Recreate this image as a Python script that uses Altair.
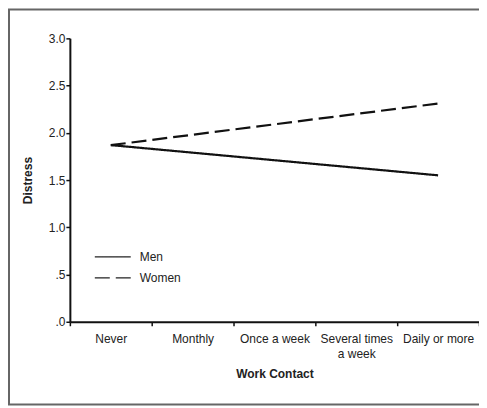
import altair as alt
import pandas as pd

categories = ["Never", "Monthly", "Once a week", "Several times a week", "Daily or more"]
men = [1.87, 1.79, 1.71, 1.63, 1.55]
women = [1.87, 1.98, 2.09, 2.20, 2.31]
groups = ["Men", "Women"]

rows = []
for g, vals in zip(groups, [men, women]):
    for c, v in zip(categories, vals):
        rows.append({"contact": c, "distress": v, "group": g})
df = pd.DataFrame(rows)

FONT = "Liberation Sans"
W, H = 410, 284

lines = alt.Chart(df).mark_line(color="#111111", strokeWidth=2.2).encode(
    x=alt.X("contact:N", sort=categories,
            scale=alt.Scale(type="band", paddingInner=0, paddingOuter=0),
            axis=alt.Axis(title="Work Contact", labelAngle=0, tickBand="extent",
                          labelExpr="datum.label == 'Several times a week' ? ['Several times', 'a week'] : datum.label",
                          labelLineHeight=15, labelPadding=8, tickSize=4, titlePadding=9)),
    y=alt.Y("distress:Q", scale=alt.Scale(domain=[0, 3]),
            axis=alt.Axis(title="Distress", values=[0, 0.5, 1, 1.5, 2, 2.5, 3],
                          labelExpr="datum.value < 1 ? replace(format(datum.value, '.1f'), '0.', '.') : format(datum.value, '.1f')",
                          tickSize=4, labelPadding=1, titlePadding=14, grid=False)),
    strokeDash=alt.StrokeDash("group:N",
                              scale=alt.Scale(domain=groups, range=[[1, 0], [15, 6]]),
                              legend=alt.Legend(title=None, orient="none", legendX=32, legendY=208,
                                                symbolType="M-1.8,0H1.8", symbolSize=400,
                                                symbolStrokeWidth=1.2, symbolStrokeColor="#222222",
                                                symbolFillColor="transparent",
                                                labelFontSize=12, labelFont=FONT, labelColor="#222222",
                                                rowPadding=4, labelOffset=16)),
)

frame = alt.Chart(alt.Data(values=[{}])).mark_rect(
    fill=None, stroke="#666666", strokeWidth=2
).encode(
    x=alt.value(-61), x2=alt.value(W + 20),
    y=alt.value(-29), y2=alt.value(H + 83),
)

chart = alt.layer(frame, lines).properties(
    width=W, height=H,
    autosize=alt.AutoSizeParams(type="none"),
    padding={"left": 62, "top": 30, "right": 0, "bottom": 84},
).configure_view(stroke=None).configure_axis(
    domainColor="#111111", domainWidth=2, tickColor="#111111", tickWidth=1.5,
    labelFont=FONT, labelFontSize=12, labelColor="#222222",
    titleFont=FONT, titleFontSize=12, titleFontWeight="bold", titleColor="#222222",
)

chart.save("out.html", embed_options={"renderer": "svg", "actions": False})
